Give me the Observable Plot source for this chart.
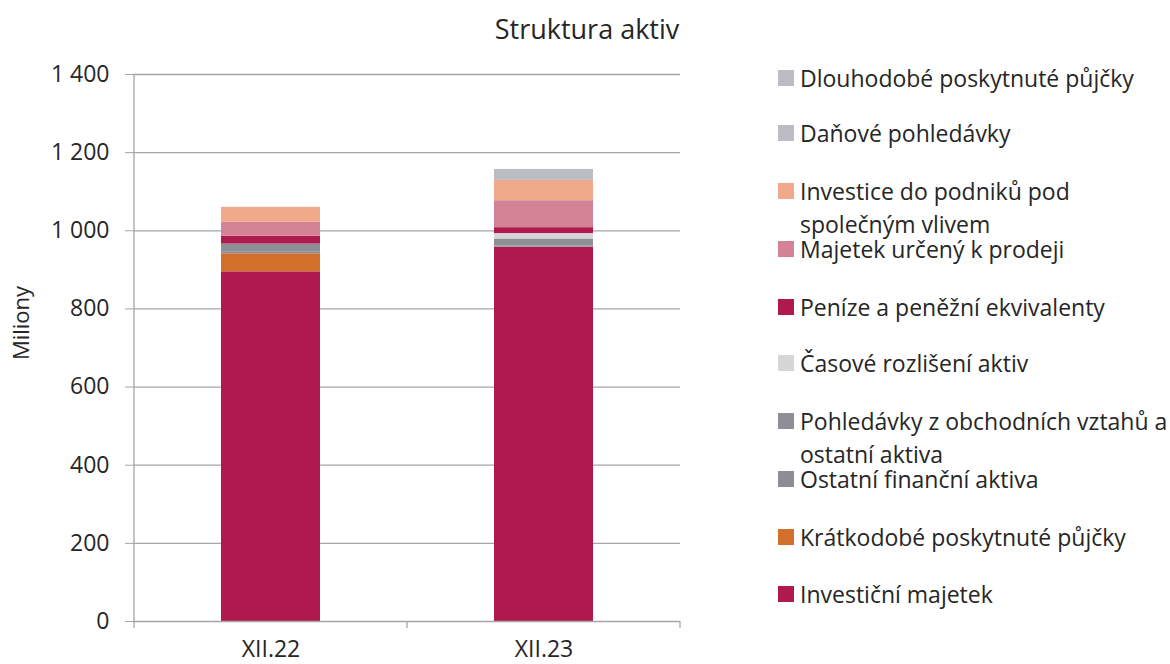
<!DOCTYPE html>
<html><head><meta charset="utf-8">
<script src="https://cdn.jsdelivr.net/npm/d3@7"></script>
<script src="https://cdn.jsdelivr.net/npm/@observablehq/plot@0.6"></script>
<style>
html,body{margin:0;padding:0;background:#fff;}
#wrap{position:relative;width:1170px;height:664px;font-family:"Open Sans",sans-serif;color:#262626;overflow:hidden;}
#title{position:absolute;left:0;width:1174px;top:11px;text-align:center;font-size:27px;line-height:36px;}
#chart{position:absolute;left:0;top:0;}
#ylab{position:absolute;left:20px;top:323px;transform:translate(-50%,-50%) rotate(-90deg);font-size:22px;white-space:nowrap;}
#legend{position:absolute;left:778px;top:0;font-size:23px;}
.ln{position:absolute;left:22px;white-space:nowrap;line-height:24px;height:24px;}
.sw{position:absolute;left:0;width:16px;height:16px;}
</style></head>
<body>
<div id="wrap">
<div id="chart"></div>
<div id="title">Struktura aktiv</div>
<div id="ylab">Miliony</div>
<div id="legend"></div>
</div>
<script>
const periods = ["XII.22", "XII.23"];
const series = [
  "Investiční majetek",
  "Krátkodobé poskytnuté půjčky",
  "Ostatní finanční aktiva",
  "Pohledávky z obchodních vztahů a ostatní aktiva",
  "Časové rozlišení aktiv",
  "Peníze a peněžní ekvivalenty",
  "Majetek určený k prodeji",
  "Investice do podniků pod společným vlivem",
  "Daňové pohledávky",
  "Dlouhodobé poskytnuté půjčky"
];
const legendLines = [
  ["Investiční majetek"],
  ["Krátkodobé poskytnuté půjčky"],
  ["Ostatní finanční aktiva"],
  ["Pohledávky z obchodních vztahů a", "ostatní aktiva"],
  ["Časové rozlišení aktiv"],
  ["Peníze a peněžní ekvivalenty"],
  ["Majetek určený k prodeji"],
  ["Investice do podniků pod", "společným vlivem"],
  ["Daňové pohledávky"],
  ["Dlouhodobé poskytnuté půjčky"]
];
const colors = ["#b0194e", "#d2702b", "#8c8d95", "#8e8f96", "#d6d6d6", "#b0194e", "#d48396", "#f0a98a", "#bcbcc4", "#bcbcc4"];
const values2022 = [895, 46, 4, 21, 0, 20, 36, 38, 0, 0];
const values2023 = [958, 0, 3, 18, 14, 15, 69, 52, 0, 28];
const yTicks = [0, 200, 400, 600, 800, 1000, 1200, 1400];

const data = [];
series.forEach((s, i) => {
  data.push({period: periods[0], series: s, value: values2022[i]});
  data.push({period: periods[1], series: s, value: values2023[i]});
});
const fmt = d => d3.format(",")(d).replace(/,/g, " ");

const plot = Plot.plot({
  width: 700, height: 664,
  marginTop: 74, marginBottom: 43, marginLeft: 133, marginRight: 20,
  style: {fontFamily: "'Open Sans', sans-serif", fontSize: "23px", color: "#262626", background: "#fff", overflow: "visible"},
  x: {domain: periods, padding: 0, label: null},
  y: {domain: [0, 1400], label: null},
  color: {domain: series, range: colors},
  marks: [
    Plot.ruleY(yTicks.slice(1), {stroke: "#a6a6a6", strokeWidth: 1.3}),
    Plot.barY(data, {x: "period", y: "value", fill: "series", order: series, insetLeft: 87, insetRight: 87}),
    Plot.axisY(yTicks, {tickSize: 8, tickPadding: 16, tickFormat: fmt, stroke: "#a6a6a6", fontSize: 23, fill: "#262626"}),
    Plot.axisX({tickSize: 0, tickPadding: 19, fontSize: 23, fill: "#262626"}),
    Plot.ruleY([0], {stroke: "#a6a6a6", strokeWidth: 1.3})
  ]
});
document.getElementById("chart").appendChild(plot);

// axis line on the left and category boundary ticks, from the scales
const xs = plot.scale("x"), ys = plot.scale("y");
const svg = d3.select(plot);
const y0 = ys.apply(0), yTop = ys.apply(1400);
const left = xs.apply(periods[0]);
svg.append("line").attr("x1", left).attr("x2", left).attr("y1", yTop).attr("y2", y0)
  .attr("stroke", "#a6a6a6").attr("stroke-width", 1.3);
const bounds = [left, ...periods.map(p => xs.apply(p) + xs.bandwidth)];
bounds.forEach(b => {
  svg.append("line").attr("x1", b).attr("x2", b).attr("y1", y0).attr("y2", y0 + 7)
    .attr("stroke", "#a6a6a6").attr("stroke-width", 1.3);
});

// legend (reverse order: top series first)
const legendTops = [78, 133, 191, 249, 307, 363, 421, 479, 537, 594];
const leg = document.getElementById("legend");
for (let k = 0; k < series.length; k++) {
  const i = series.length - 1 - k;
  const cy = legendTops[k];
  const sw = document.createElement("div");
  sw.className = "sw"; sw.style.background = colors[i];
  sw.style.top = (cy - 8) + "px";
  leg.appendChild(sw);
  legendLines[i].forEach((t, j) => {
    const ln = document.createElement("div");
    ln.className = "ln";
    ln.style.top = (cy - 12 + j * 33) + "px";
    ln.textContent = t;
    leg.appendChild(ln);
  });
}
</script>
</body></html>
